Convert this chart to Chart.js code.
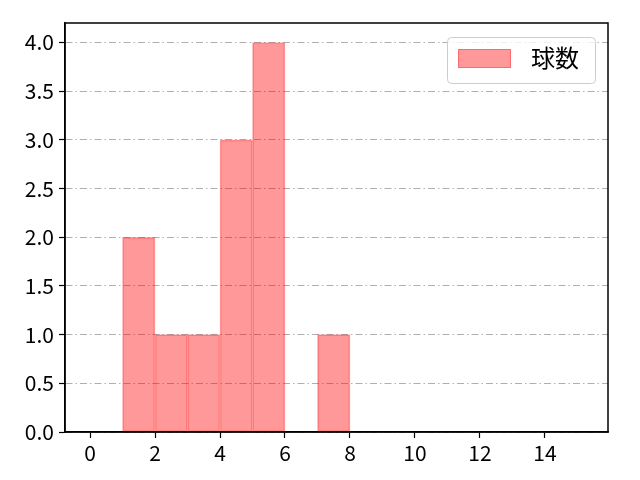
<!DOCTYPE html>
<html>
<head>
<meta charset="utf-8">
<script src="https://cdn.jsdelivr.net/npm/chart.js@4"></script>
<style>
    html, body { margin: 0; padding: 0; background: #fff; }
    #wrap { width: 640px; height: 480px; }
</style>
</head>
<body>
<div id="wrap"><canvas id="histChart" width="640" height="480"></canvas></div>
<script>
// histogram data (bin edges + counts per bin)
const binEdges = [1, 2, 3, 4, 5, 6, 7, 8];
const counts = [2, 1, 1, 3, 4, 0, 1];
const xTicks = [0, 2, 4, 6, 8, 10, 12, 14];
const yTicks = [0, 0.5, 1.0, 1.5, 2.0, 2.5, 3.0, 3.5, 4.0];
const seriesLabel = "球数";

const FONT = "'Noto Sans CJK JP', 'Noto Sans', sans-serif";

// bar centers from the bin edges
const points = counts.map((c, i) => ({
    x: (binEdges[i] + binEdges[i + 1]) / 2,
    y: c
}));

// draws the top/right frame and the legend box inside the plot
const framePlugin = {
    id: "frame",
    afterDraw(chart) {
        const ctx = chart.ctx;
        const a = chart.chartArea;
        ctx.save();
        ctx.strokeStyle = "#000";
        ctx.lineWidth = 1.5;
        ctx.setLineDash([]);
        ctx.strokeRect(a.left, a.top, a.right - a.left, a.bottom - a.top);

        // legend
        const bx = 447.5, by = 37.5, bw = 148, bh = 46, r = 4;
        ctx.beginPath();
        ctx.moveTo(bx + r, by);
        ctx.arcTo(bx + bw, by, bx + bw, by + bh, r);
        ctx.arcTo(bx + bw, by + bh, bx, by + bh, r);
        ctx.arcTo(bx, by + bh, bx, by, r);
        ctx.arcTo(bx, by, bx + bw, by, r);
        ctx.closePath();
        ctx.fillStyle = "rgba(255,255,255,0.8)";
        ctx.fill();
        ctx.strokeStyle = "#cccccc";
        ctx.lineWidth = 1;
        ctx.stroke();

        ctx.fillStyle = "rgba(255,0,0,0.4)";
        ctx.fillRect(458, 49, 53, 19);
        ctx.strokeStyle = "rgba(255,0,0,0.3)";
        ctx.strokeRect(458.5, 49.5, 52, 18);

        ctx.fillStyle = "#000";
        ctx.font = "24px " + FONT;
        ctx.textBaseline = "middle";
        ctx.textAlign = "left";
        ctx.fillText(seriesLabel, 531, 58);
        ctx.restore();
    }
};

const ctx = document.getElementById("histChart").getContext("2d");
const histChart = new Chart(ctx, {
    type: "bar",
    data: {
        datasets: [{
            label: seriesLabel,
            data: points,
            backgroundColor: "rgba(255, 0, 0, 0.4)",
            borderColor: "rgba(255, 0, 0, 0.35)",
            borderWidth: 1,
            borderSkipped: false,
            barPercentage: 1.0,
            categoryPercentage: 1.0,
        }],
    },
    options: {
        responsive: false,
        animation: false,
        devicePixelRatio: 1,
        layout: {
            padding: { left: 0, top: 23, right: 32, bottom: 0 }
        },
        plugins: {
            legend: { display: false },
            tooltip: { enabled: false },
        },
        scales: {
            x: {
                type: "linear",
                offset: false,
                min: -0.77,
                max: 15.94,
                afterBuildTicks: (scale) => {
                    scale.ticks = xTicks.map((v) => ({ value: v }));
                },
                afterFit: (scale) => { scale.height = 48; },
                grid: {
                    offset: false,
                    drawOnChartArea: false,
                    drawTicks: true,
                    tickLength: 6,
                    tickColor: "#000",
                    tickWidth: 1.2,
                },
                border: { display: true, color: "#000", width: 1.5 },
                ticks: {
                    color: "#000",
                    padding: 2,
                    maxRotation: 0,
                    font: { family: FONT, size: 21 },
                },
            },
            y: {
                min: 0,
                max: 4.2,
                afterBuildTicks: (scale) => {
                    scale.ticks = yTicks.map((v) => ({ value: v }));
                },
                afterFit: (scale) => { scale.width = 65; },
                grid: {
                    color: "#b0b0b0",
                    lineWidth: 1,
                    tickBorderDash: [],
                    tickLength: 6,
                    tickColor: "#000",
                    tickWidth: 1.2,
                },
                border: { display: true, color: "#000", width: 1.5, dash: [7, 3, 1.5, 3] },
                ticks: {
                    color: "#000",
                    padding: 5,
                    font: { family: FONT, size: 21 },
                    callback: (v) => v.toFixed(1),
                },
            },
        },
    },
    plugins: [framePlugin],
});
</script>
</body>
</html>
